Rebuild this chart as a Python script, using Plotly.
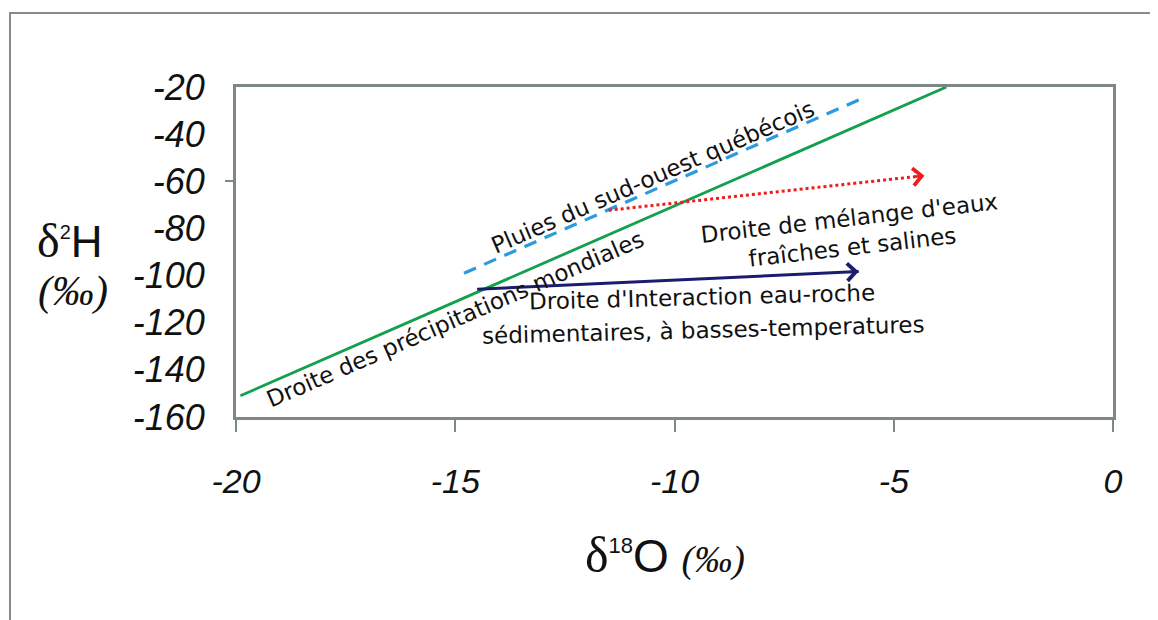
import plotly.graph_objects as go

# ---- data ----
gmwl_x = [-19.9, -3.8]          # Droite des précipitations mondiales
gmwl_y = [-151.0, -20.0]
lmwl_x = [-14.8, -5.8]          # Pluies du sud-ouest québécois
lmwl_y = [-99.0, -25.5]
mix_x = [-11.5, -4.3]           # Droite de mélange d'eaux fraîches et salines
mix_y = [-72.3, -57.6]
wri_x = [-14.5, -5.8]           # Droite d'interaction eau-roche
wri_y = [-105.8, -98.3]

x_ticks = [-20, -15, -10, -5, 0]
x_ticklabels = ["-20", "-15", "-10", "-5", "0"]
y_ticks = [-160, -140, -120, -100, -80, -60, -40, -20]
y_ticklabels = ["-160", "-140", "-120", "-100", "-80", "-60", "-40", "-20"]

GREEN = "#12a04e"
BLUE = "#2b9be0"
RED = "#f01c1c"
NAVY = "#1c1c6e"
FRAME = "#7d8787"

fig = go.Figure()
fig.add_trace(go.Scatter(x=gmwl_x, y=gmwl_y, mode="lines",
                         line=dict(color=GREEN, width=2.8), showlegend=False))
fig.add_trace(go.Scatter(x=lmwl_x, y=lmwl_y, mode="lines",
                         line=dict(color=BLUE, width=3.2, dash="13px,9px"), showlegend=False))
fig.add_trace(go.Scatter(x=mix_x, y=mix_y, mode="lines",
                         line=dict(color=RED, width=3, dash="dot"), showlegend=False))
fig.add_trace(go.Scatter(x=wri_x, y=wri_y, mode="lines",
                         line=dict(color=NAVY, width=3), showlegend=False))
# second y axis only to draw the single tick mark at -60
fig.add_trace(go.Scatter(x=[None], y=[None], yaxis="y2", showlegend=False))

# arrow heads at the ends of the two arrows
for xs, ys, col in [(mix_x, mix_y, RED), (wri_x, wri_y, NAVY)]:
    fig.add_annotation(x=xs[1], y=ys[1], ax=xs[1] - 0.25 * (xs[1] - xs[0]) / abs(xs[1] - xs[0]),
                       ay=ys[1] - 0.25 * (ys[1] - ys[0]) / abs(xs[1] - xs[0]),
                       xref="x", yref="y", axref="x", ayref="y", text="",
                       showarrow=True, arrowhead=4, arrowsize=1.3, arrowwidth=2.6,
                       arrowcolor=col)

TXT = dict(family="DejaVu Sans, Verdana, sans-serif", size=23, color="#111")
labels = [
    ("Pluies du sud-ouest québécois", -10.5, -58.0, -23.5),
    ("Droite des précipitations mondiales", -15.0, -118.5, -23.5),
    ("Droite de mélange d'eaux", -6.0, -75.6, -6.5),
    ("fraîches et salines", -5.95, -87.8, -6.5),
    ("Droite d'Interaction eau-roche", -9.37, -108.9, -1.5),
    ("sédimentaires, à basses-temperatures", -9.33, -123.3, -1.5),
]
for t, x, y, a in labels:
    fig.add_annotation(x=x, y=y, xref="x", yref="y", text=t, showarrow=False,
                       textangle=a, font=TXT, xanchor="center", yanchor="middle")

# axis titles
fig.add_annotation(x=-0.189, y=0.536, xref="paper", yref="paper", showarrow=False,
                   xanchor="center", yanchor="middle",
                   text="<span style='font-family:Liberation Serif;font-size:48px'>δ</span>"
                        "<sup><span style='font-size:20px'>2</span></sup>H",
                   font=dict(family="Liberation Sans, Arial", size=44, color="#111"))
fig.add_annotation(x=-0.186, y=0.379, xref="paper", yref="paper", showarrow=False,
                   xanchor="center", yanchor="middle",
                   text="<i>(‰)</i>",
                   font=dict(family="Liberation Serif, Times New Roman", size=42, color="#111"))
fig.add_annotation(x=0.489, y=-0.418, xref="paper", yref="paper", showarrow=False,
                   xanchor="center", yanchor="middle",
                   text="<span style='font-family:Liberation Serif;font-size:50px'>δ</span>"
                        "<sup><span style='font-size:22px'>18</span></sup>O "
                        "<i><span style='font-family:Liberation Serif;font-size:38px'>(‰)</span></i>",
                   font=dict(family="Liberation Sans, Arial", size=46, color="#111"))

# outer frame
fig.add_shape(type="rect", xref="paper", yref="paper", x0=-0.2577, x1=1.07, y0=-0.66, y1=1.224,
              line=dict(color="#8a8a8a", width=2), layer="below")

fig.update_layout(
    width=1150, height=612,
    margin=dict(l=228, r=45, t=79, b=203),
    paper_bgcolor="white", plot_bgcolor="white",
    xaxis=dict(range=[-20, 0], tickvals=x_ticks, ticktext=x_ticklabels,
               showgrid=False, zeroline=False, showline=True, mirror=True,
               linecolor=FRAME, linewidth=3, ticks="outside", ticklen=12,
               tickwidth=1.5, tickcolor=FRAME, ticklabelstandoff=20,
               tickfont=dict(family="Liberation Sans, Arial",
                             size=34, color="#111", style="italic")),
    yaxis=dict(range=[-160, -20], tickvals=y_ticks, ticktext=y_ticklabels,
               showgrid=False, zeroline=False, showline=True, mirror=True,
               linecolor=FRAME, linewidth=3, ticks="", ticklabelstandoff=21,
               tickfont=dict(family="Liberation Sans, Arial", size=36,
                             color="#111", style="italic")),
    yaxis2=dict(range=[-160, -20], overlaying="y", side="left", tickvals=[-60],
                showticklabels=False, ticks="outside", ticklen=10, tickwidth=1.5,
                tickcolor=FRAME, showgrid=False, zeroline=False, showline=False),
)

fig.write_html("out.html")
